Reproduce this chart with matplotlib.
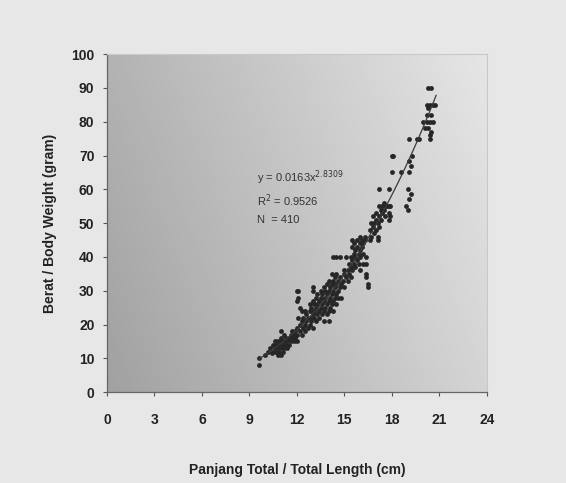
import numpy as np
import matplotlib.pyplot as plt

plt.rcParams['font.family'] = ['Liberation Sans', 'DejaVu Sans']

# --- data (length cm, weight g) ---
panjang = [
    9.6, 9.6, 10.0, 10.2, 10.3, 10.4, 10.5, 10.5, 10.6, 10.6, 10.7, 10.7, 10.8, 10.8, 10.8,
    10.9, 10.9, 11.0, 11.0, 11.0, 11.0, 11.1, 11.1, 11.2, 11.2, 11.2, 11.0, 11.3, 11.3, 11.4,
    11.4, 11.5, 11.5, 11.6, 11.6, 11.7, 11.7, 11.8, 11.8, 11.9, 11.9, 12.0, 12.0, 12.0,
    12.0, 12.1, 12.1, 12.0, 12.2, 12.3, 12.1, 12.2, 12.3, 12.2, 12.3, 12.4, 12.4, 12.5,
    12.5, 12.5, 12.6, 12.6, 12.7, 12.7, 12.8, 12.8, 12.8, 12.9, 12.9, 12.9, 13.0, 13.0,
    13.0, 13.0, 13.0, 13.1, 13.1, 13.1, 13.2, 13.2, 13.2, 13.3, 13.3, 13.3, 13.4, 13.4,
    13.4, 13.5, 13.5, 13.5, 13.6, 13.6, 13.6, 13.7, 13.7, 13.7, 13.7, 13.8, 13.8, 13.8,
    13.9, 13.9, 13.9, 13.9, 14.0, 14.0, 14.0, 14.0, 14.0, 14.1, 14.1, 14.1, 14.2, 14.2,
    14.2, 14.2, 14.3, 14.3, 14.3, 14.3, 14.4, 14.4, 14.4, 14.5, 14.5, 14.5, 14.5, 14.6,
    14.6, 14.6, 14.7, 14.7, 14.8, 14.8, 14.9, 15.0, 15.0, 15.0,
    14.3, 14.5, 14.7, 15.1, 15.4,
    15.1, 15.2, 15.2, 15.3, 15.3, 15.4, 15.4, 15.5, 15.5, 15.5, 15.5, 15.6, 15.6, 15.6,
    15.7, 15.7, 15.7, 15.8, 15.8, 15.8, 15.9, 15.9, 16.0, 16.0, 16.0, 16.0, 16.1, 16.1,
    16.2, 16.2, 16.3, 16.3, 16.4, 16.4, 16.4, 16.4, 16.5, 16.5, 16.2, 16.0,
    16.6, 16.6, 16.7, 16.7, 16.8, 16.8, 16.9, 16.9, 17.0, 17.0, 17.0, 17.1, 17.1, 17.1,
    17.2, 17.2, 17.2, 17.3, 17.3, 17.2, 17.4, 17.4, 17.5, 17.5, 17.6, 17.6, 17.7, 17.8,
    17.8, 17.8, 17.9, 18.0, 18.1, 18.0, 18.6, 17.9, 17.8,
    19.1, 19.0, 19.1, 19.2, 18.9, 19.0, 19.1, 19.6, 19.3, 19.1, 19.2, 19.7, 20.0, 20.1,
    20.2, 20.2, 20.2, 20.3, 20.5, 20.4, 20.6, 20.3, 20.4, 20.4, 20.5, 20.5, 20.4, 20.6,
    20.3, 20.7,
]
berat = [
    10, 8, 11, 12, 13, 11.5, 12, 14, 13, 15, 12, 14, 11, 13, 15,
    12, 14, 13, 11, 15, 16, 12, 14, 13, 15, 17, 18, 14, 16, 13,
    15, 16, 14, 17, 15, 16, 18, 17, 15, 16, 18, 17, 19, 15,
    30, 30, 28, 27, 25, 24, 22, 20, 21, 18, 17, 19, 22, 20,
    18, 24, 21, 23, 19, 22, 20, 24, 26, 22, 25, 21, 23, 27,
    30, 31, 19, 24, 26, 22, 25, 28, 21, 23, 26, 29, 24, 27,
    22, 25, 28, 30, 26, 23, 29, 27, 24, 31, 21, 28, 25, 30,
    26, 29, 32, 23, 27, 30, 33, 24, 21, 28, 31, 25, 29, 32,
    26, 35, 30, 27, 33, 24, 31, 28, 34, 29, 32, 35, 26, 30,
    33, 28, 31, 34, 32, 28, 33, 35, 31, 36,
    40, 40, 40, 40, 40,
    34, 36, 33, 35, 38, 37, 34, 36, 39, 43, 45, 38, 41, 44,
    40, 37, 42, 39, 43, 45, 41, 38, 42, 44, 40, 46, 43, 45,
    44, 41, 45, 46, 40, 38, 35, 34, 32, 31, 38, 36,
    45, 48, 50, 46, 49, 52, 50, 47, 51, 53, 48, 50, 45, 46,
    52, 55, 49, 54, 51, 60, 55, 53, 54, 56, 55, 52, 55, 53,
    55, 60, 52, 70, 70, 65, 65, 55, 51,
    65, 60, 57, 58.5, 55, 54, 75, 75, 70, 68.5, 67, 75, 80, 78,
    82, 85, 80, 90, 90, 85, 85, 78, 76, 75, 77, 82, 80, 80,
    84, 85,
]

# power trend line coefficients printed on the chart
a_coef = 0.0163
b_coef = 2.8309
x_fit = np.linspace(9.6, 20.8, 100)
y_fit = a_coef * x_fit ** b_coef

fig = plt.figure(figsize=(5.66, 4.83), dpi=100)
fig.patch.set_facecolor('#e7e7e7')
ax = fig.add_axes([0.189, 0.188, 0.671, 0.700])

# gradient backdrop of the plot area
gx = np.linspace(0, 1, 200)
gy = np.linspace(0, 1, 200)
GX, GY = np.meshgrid(gx, gy)
shade = 0.63 + 0.20 * GX + 0.07 * GY
ax.imshow(shade, cmap='gray', vmin=0, vmax=1, extent=[0, 1, 0, 1],
          transform=ax.transAxes, origin='lower', aspect='auto', zorder=0)

ax.scatter(panjang, berat, s=12, color='#262626', zorder=3, linewidths=0)
ax.plot(x_fit, y_fit, color='#3a3a3a', lw=0.9, zorder=4)

ax.set_xlim(0, 24)
ax.set_ylim(0, 100)
ax.set_xticks(range(0, 25, 3))
ax.set_yticks(range(0, 101, 10))
ax.tick_params(direction='out', length=3, width=0.8, colors='#555555',
               labelcolor='#222222', labelsize=10)
for lab in ax.get_xticklabels() + ax.get_yticklabels():
    lab.set_fontweight('bold')
ax.tick_params(axis='x', pad=12)
ax.tick_params(axis='y', pad=6)

for s in ['left', 'bottom']:
    ax.spines[s].set_color('#666666')
    ax.spines[s].set_linewidth(0.9)
for s in ['top', 'right']:
    ax.spines[s].set_color('#c8c8c8')
    ax.spines[s].set_linewidth(0.8)

ax.set_xlabel('Panjang Total / Total Length (cm)', fontsize=10, fontweight='bold',
              color='#222222', labelpad=26)
ax.set_ylabel('Berat / Body Weight (gram)', fontsize=10, fontweight='bold',
              color='#222222', labelpad=10)

ax.text(9.5, 63.5, r'y = 0.0163x$^{2.8309}$', fontsize=8, color='#333333', va='center')
ax.text(9.5, 56.7, r'R$^{2}$ = 0.9526', fontsize=8, color='#333333', va='center')
ax.text(9.5, 50.8, 'N  = 410', fontsize=8, color='#333333', va='center')

fig.savefig('out.png', dpi=100, facecolor=fig.get_facecolor())
